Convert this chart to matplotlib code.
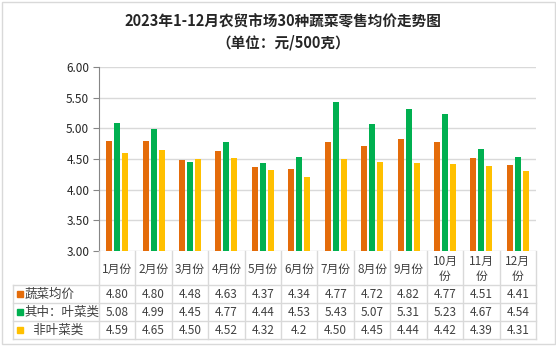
import matplotlib
matplotlib.use("Agg")
import matplotlib.pyplot as plt
from matplotlib.patches import Rectangle

plt.rcParams['font.family'] = ['Noto Sans CJK SC', 'DejaVu Sans']

months = ["1月份", "2月份", "3月份", "4月份", "5月份", "6月份", "7月份", "8月份", "9月份", "10月\n份", "11月\n份", "12月\n份"]
series_names = ["蔬菜均价", "其中：叶菜类", "   非叶菜类"]
avg_all = [4.80, 4.80, 4.48, 4.63, 4.37, 4.34, 4.77, 4.72, 4.82, 4.77, 4.51, 4.41]
leafy = [5.08, 4.99, 4.45, 4.77, 4.44, 4.53, 5.43, 5.07, 5.31, 5.23, 4.67, 4.54]
non_leafy = [4.59, 4.65, 4.50, 4.52, 4.32, 4.20, 4.50, 4.45, 4.44, 4.42, 4.39, 4.31]
labels_txt = [
    ["4.80", "4.80", "4.48", "4.63", "4.37", "4.34", "4.77", "4.72", "4.82", "4.77", "4.51", "4.41"],
    ["5.08", "4.99", "4.45", "4.77", "4.44", "4.53", "5.43", "5.07", "5.31", "5.23", "4.67", "4.54"],
    ["4.59", "4.65", "4.50", "4.52", "4.32", "4.2", "4.50", "4.45", "4.44", "4.42", "4.39", "4.31"],
]
colors = ["#E46C0A", "#00B050", "#FFC000"]
yticks = [3.00, 3.50, 4.00, 4.50, 5.00, 5.50, 6.00]

W, H = 556, 346
fig = plt.figure(figsize=(W / 100, H / 100), dpi=100)
grid_c = "#D9D9D9"
txt_c = "#404040"

# outer border
fig.add_artist(Rectangle((1.5 / W, 2.5 / H), (W - 3) / W, (H - 4) / H, transform=fig.transFigure,
                         fill=False, edgecolor=grid_c, linewidth=1))

fig.text(283 / W, 1 - 21 / H, "2023年1-12月农贸市场30种蔬菜零售均价走势图", ha="center", va="center",
         fontsize=10.5, fontweight="bold", color="#262626")
fig.text(283 / W, 1 - 42 / H, "（单位：元/500克）", ha="center", va="center",
         fontsize=10.5, fontweight="bold", color="#262626")

# chart axes
x0, x1, yt, yb = 99, 536, 67, 251
ax = fig.add_axes([x0 / W, 1 - yb / H, (x1 - x0) / W, (yb - yt) / H])
xs = list(range(len(months)))
bw = 0.165
off = 0.22
for i, (vals, c) in enumerate(zip([avg_all, leafy, non_leafy], colors)):
    ax.bar([x + (i - 1) * off for x in xs], [v - 3 for v in vals], bottom=3, width=bw, color=c, zorder=3)
ax.set_xlim(-0.5, 11.5)
ax.set_ylim(3, 6)
ax.set_yticks(yticks)
ax.set_yticklabels([f"{v:.2f}" for v in yticks], fontsize=8.5, color="#262626")
ax.yaxis.grid(True, color=grid_c, linewidth=1)
ax.set_xticks([])
for s in ["top", "right", "bottom"]:
    ax.spines[s].set_visible(False)
ax.spines["left"].set_color("#868686")
ax.tick_params(axis="y", length=4, color="#868686", pad=3)

# data table
tl, tb = 12.7, 339
lab_w = (x0 - tl) / ((x1 - x0) / 12)
tax = fig.add_axes([tl / W, 1 - tb / H, (x1 - tl) / W, (tb - yb) / H])
tax.set_xlim(-0.5 - lab_w, 11.5)
tax.set_ylim(tb - yb, 0)
tax.axis("off")
rows_y = [285 - yb, 303 - yb, 321 - yb, 339 - yb]
for y in rows_y:
    tax.plot([-0.5 - lab_w, 11.5], [y, y], color=grid_c, lw=1, clip_on=False)
tax.plot([-0.5 - lab_w, -0.5 - lab_w], [rows_y[0], rows_y[-1]], color=grid_c, lw=1, clip_on=False)
for k in range(13):
    tax.plot([k - 0.5, k - 0.5], [0, rows_y[-1]], color=grid_c, lw=1, clip_on=False)
for k, m in enumerate(months):
    tax.text(k, (rows_y[0]) / 2 + 1, m, ha="center", va="center", fontsize=8.5, color=txt_c, linespacing=1.25)
for r in range(3):
    yc = (rows_y[r] + rows_y[r + 1]) / 2
    for k in range(12):
        tax.text(k, yc, labels_txt[r][k], ha="center", va="center", fontsize=8.5, color=txt_c)
    sx = -0.5 - lab_w + 4.5 / 36.4
    tax.add_patch(Rectangle((sx, yc - 3), 5.5 / 36.4, 6, color=colors[r], clip_on=False))
    tax.text(sx + 7.5 / 36.4, yc, series_names[r], ha="left", va="center", fontsize=9, color=txt_c)

fig.savefig("out.png", dpi=100)
